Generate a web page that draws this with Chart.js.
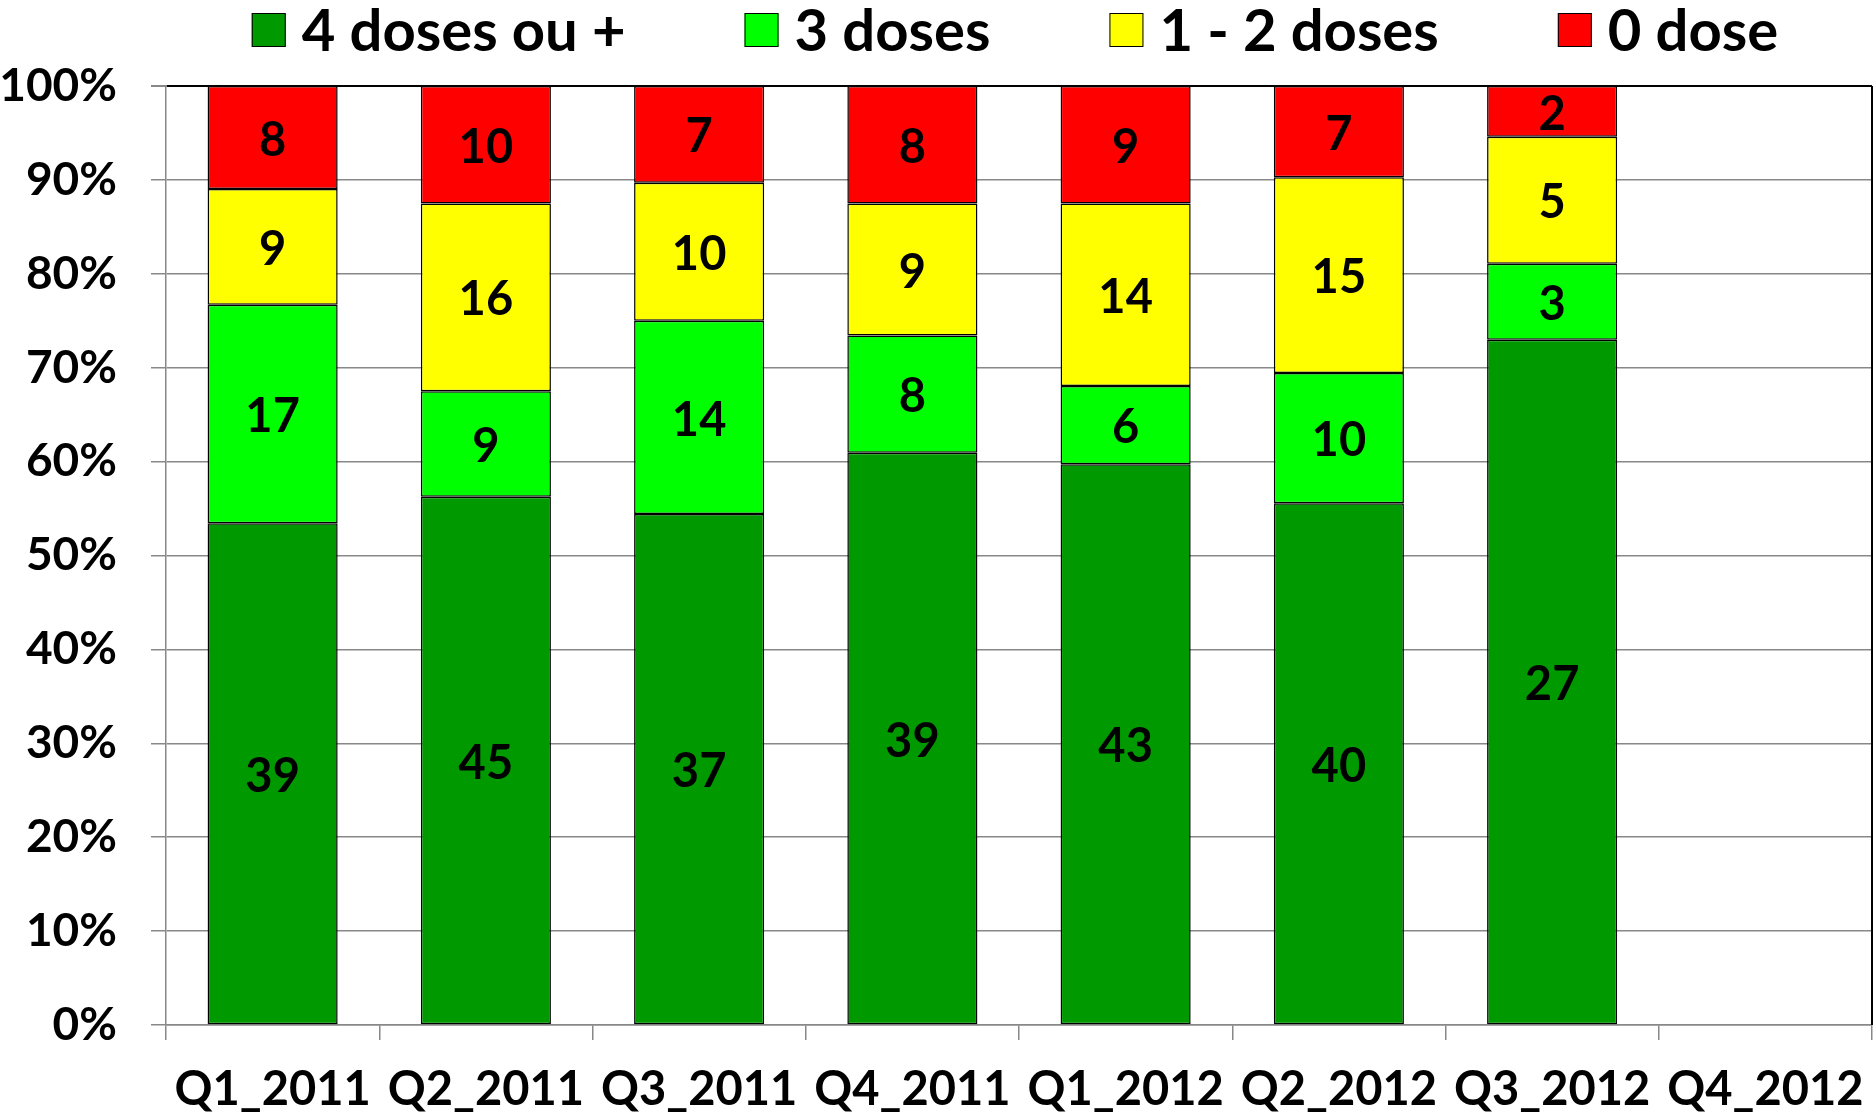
<!DOCTYPE html>
<html>
<head>
<meta charset="utf-8">
<script src="https://cdn.jsdelivr.net/npm/chart.js@4/dist/chart.umd.min.js"></script>
<style>
  html, body { margin: 0; padding: 0; background: #fff; }
</style>
</head>
<body>
<canvas id="chart" width="1874" height="1117"></canvas>
<script>
// counts per quarter (labels shown on the bars), bars are the share of the quarter total
const quarters = ['Q1_2011', 'Q2_2011', 'Q3_2011', 'Q4_2011', 'Q1_2012', 'Q2_2012', 'Q3_2012', 'Q4_2012'];
const doses4plus = [39, 45, 37, 39, 43, 40, 27, null];
const doses3 = [17, 9, 14, 8, 6, 10, 3, null];
const doses1to2 = [9, 16, 10, 9, 14, 15, 5, null];
const doses0 = [8, 10, 7, 8, 9, 7, 2, null];
const seriesNames = ['4 doses ou +', '3 doses', '1 - 2 doses', '0 dose'];
const seriesColors = ['#009900', '#00ff00', '#ffff00', '#ff0000'];
const yTicks = [0, 10, 20, 30, 40, 50, 60, 70, 80, 90, 100];

const counts = [doses4plus, doses3, doses1to2, doses0];
const totals = quarters.map((q, i) => counts.reduce((s, arr) => s + (arr[i] || 0), 0));
const toPct = arr => arr.map((v, i) => v == null ? null : v / totals[i] * 100);

const FONT = 'Lato';

// draws the counts in the middle of each segment
const countLabels = {
  id: 'countLabels',
  afterDatasetsDraw(chart) {
    const ctx = chart.ctx;
    ctx.save();
    ctx.font = 'bold 47px ' + FONT;
    ctx.fillStyle = '#000';
    ctx.textAlign = 'center';
    ctx.textBaseline = 'middle';
    chart.data.datasets.forEach((ds, di) => {
      const meta = chart.getDatasetMeta(di);
      meta.data.forEach((bar, i) => {
        const n = ds.counts[i];
        if (n == null) return;
        ctx.fillText(String(n), bar.x, (bar.y + bar.base) / 2 + 3);
      });
    });
    ctx.restore();
  }
};

// legend centred over the plot area, plus the black right frame line
const topLegend = {
  id: 'topLegend',
  afterDraw(chart) {
    const ctx = chart.ctx;
    const area = chart.chartArea;
    ctx.save();
    ctx.strokeStyle = '#000';
    ctx.lineWidth = 2;
    ctx.beginPath();
    ctx.moveTo(area.right, area.top);
    ctx.lineTo(area.right, area.bottom);
    ctx.stroke();

    const box = 34, gapText = 16, gapItem = 119, y = 30;
    ctx.font = 'bold 58px ' + FONT;
    ctx.textBaseline = 'middle';
    ctx.textAlign = 'left';
    const items = chart.data.datasets.map(ds => ({ label: ds.label, color: ds.backgroundColor, w: ctx.measureText(ds.label).width }));
    const total = items.reduce((s, it) => s + box + gapText + it.w, 0) + gapItem * (items.length - 1);
    let x = (area.left + area.right) / 2 - 4 - total / 2;
    items.forEach(it => {
      ctx.fillStyle = it.color;
      ctx.fillRect(x, y - box / 2, box, box);
      ctx.strokeStyle = '#000';
      ctx.lineWidth = 1;
      ctx.strokeRect(x + 0.5, y - box / 2 + 0.5, box - 1, box - 1);
      ctx.fillStyle = '#000';
      ctx.fillText(it.label, x + box + gapText, y + 2);
      x += box + gapText + it.w + gapItem;
    });
    ctx.restore();
  }
};

function draw() {
  new Chart(document.getElementById('chart'), {
    type: 'bar',
    data: {
      labels: quarters,
      datasets: counts.map((arr, k) => ({
        label: seriesNames[k],
        data: toPct(arr),
        counts: arr,
        backgroundColor: seriesColors[k],
        borderColor: '#000',
        borderWidth: 1.5,
        borderSkipped: false,
        categoryPercentage: 1,
        barPercentage: 0.61
      }))
    },
    options: {
      responsive: false,
      animation: false,
      layout: { padding: { top: 86, right: 2, left: 0, bottom: 0 } },
      plugins: {
        legend: { display: false },
        tooltip: { enabled: false }
      },
      scales: {
        x: {
          stacked: true,
          afterFit(scale) {
            scale.height = 92;
            scale.paddingLeft = 0;
            scale.paddingRight = 0;
          },
          grid: { drawOnChartArea: false, color: '#888', lineWidth: 1.5, tickLength: 15 },
          border: { color: '#888', width: 1.5 },
          ticks: { color: '#000', padding: 22, font: { family: FONT, size: 47, weight: 'bold' } }
        },
        y: {
          stacked: true,
          min: 0,
          max: 100,
          afterFit(scale) { scale.width = 166; },
          afterBuildTicks(scale) { scale.ticks = yTicks.map(v => ({ value: v })); },
          grid: {
            color: c => c.tick && c.tick.value === 100 ? '#000' : '#888',
            lineWidth: c => c.tick && c.tick.value === 100 ? 2 : 1.5,
            tickColor: '#888',
            tickLength: 15
          },
          border: { color: '#888', width: 1.5 },
          ticks: {
            color: '#000',
            padding: 34,
            font: { family: FONT, size: 46, weight: 'bold' },
            callback: v => v + '%'
          }
        }
      }
    },
    plugins: [countLabels, topLegend]
  });
}

document.fonts.load('bold 44px ' + FONT).then(draw, draw);
</script>
</body>
</html>
